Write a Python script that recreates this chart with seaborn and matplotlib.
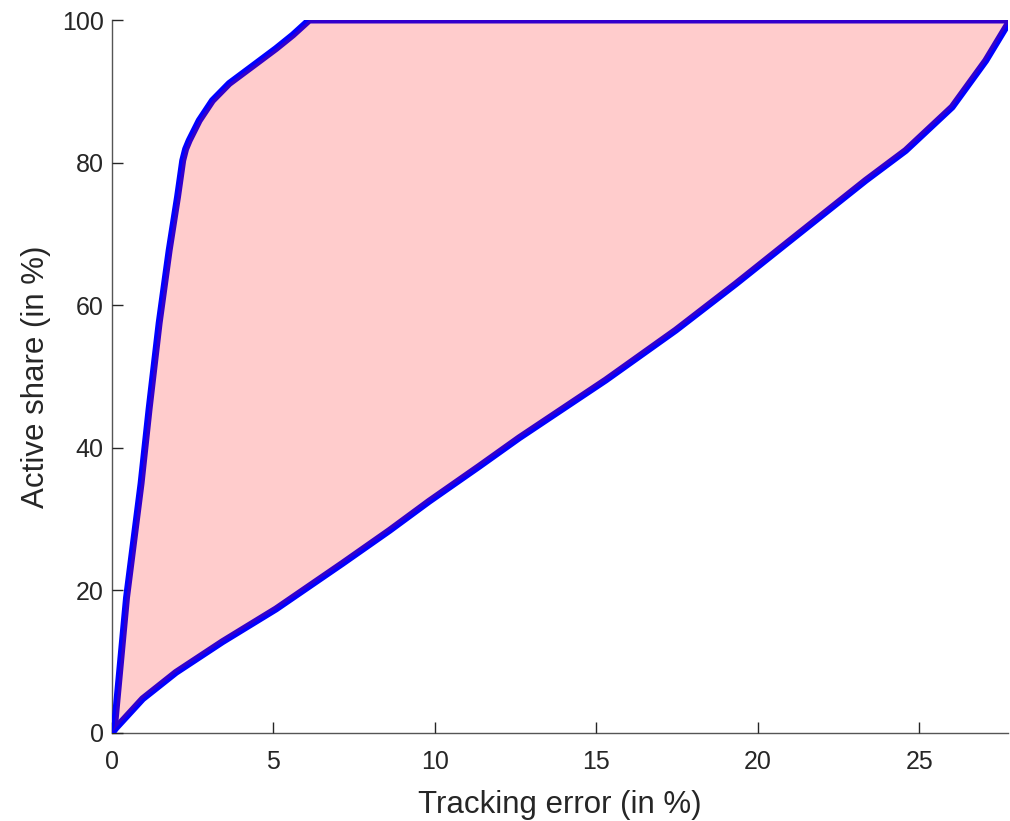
import matplotlib
matplotlib.use('Agg')
import matplotlib.pyplot as plt
import seaborn as sns

# upper boundary (tracking error vs active share)
upper_te = [0, 0.08, 0.45, 0.90, 1.15, 1.46, 1.77, 2.03, 2.19, 2.28, 2.39, 2.70,
            3.11, 3.63, 4.46, 5.08, 5.60, 6.11, 27.78]
upper_as = [0, 1.0, 19.0, 35.0, 45.5, 57.5, 67.7, 75.2, 80.3, 81.9, 83.1, 85.9,
            88.7, 91.1, 93.9, 96.0, 97.9, 100, 100]

# lower boundary
lower_te = [0, 0.12, 0.95, 1.98, 3.42, 5.08, 7.14, 8.59, 9.82, 11.37, 12.61,
            15.29, 17.46, 19.32, 20.87, 23.34, 24.58, 26.02, 27.06, 27.78]
lower_as = [0, 0.7, 4.8, 8.5, 12.8, 17.4, 23.8, 28.4, 32.5, 37.4, 41.4,
            49.5, 56.5, 63.0, 68.6, 77.5, 81.7, 87.8, 94.3, 99.7]

sns.set_style('white')
plt.rcParams['font.family'] = ['Liberation Sans', 'DejaVu Sans']

fig = plt.figure(figsize=(10.1, 8.21), dpi=100)
ax = fig.add_axes([0.1109, 0.1072, 0.8871, 0.8684])

sns.lineplot(x=upper_te, y=upper_as, sort=False, color='#0000ff', linewidth=5,
             ax=ax, solid_capstyle='round', solid_joinstyle='round')
sns.lineplot(x=lower_te, y=lower_as, sort=False, color='#0000ff', linewidth=5,
             ax=ax, solid_capstyle='round', solid_joinstyle='round')

# shaded area between the two frontiers, drawn on top with transparency
poly_x = upper_te + lower_te[::-1]
poly_y = upper_as + lower_as[::-1]
ax.fill(poly_x, poly_y, color='red', alpha=0.2, linewidth=0, zorder=3)

ax.set_xlim(0, 27.75)
ax.set_ylim(0, 100)
ax.set_xticks([0, 5, 10, 15, 20, 25])
ax.set_yticks([0, 20, 40, 60, 80, 100])
ax.set_xlabel('Tracking error (in %)', fontsize=22.5, color='#262626', labelpad=12)
ax.set_ylabel('Active share (in %)', fontsize=22.5, color='#262626', labelpad=8)
ax.tick_params(direction='in', length=8, width=1, labelsize=18,
               colors='#262626', left=True, bottom=True)
ax.tick_params(axis='x', pad=12)
ax.tick_params(axis='y', pad=6)
for side in ['top', 'right']:
    ax.spines[side].set_visible(False)
for side in ['left', 'bottom']:
    ax.spines[side].set_color('#555555')
    ax.spines[side].set_linewidth(1)
    ax.spines[side].set_zorder(0)

plt.savefig('out.png', dpi=100)
